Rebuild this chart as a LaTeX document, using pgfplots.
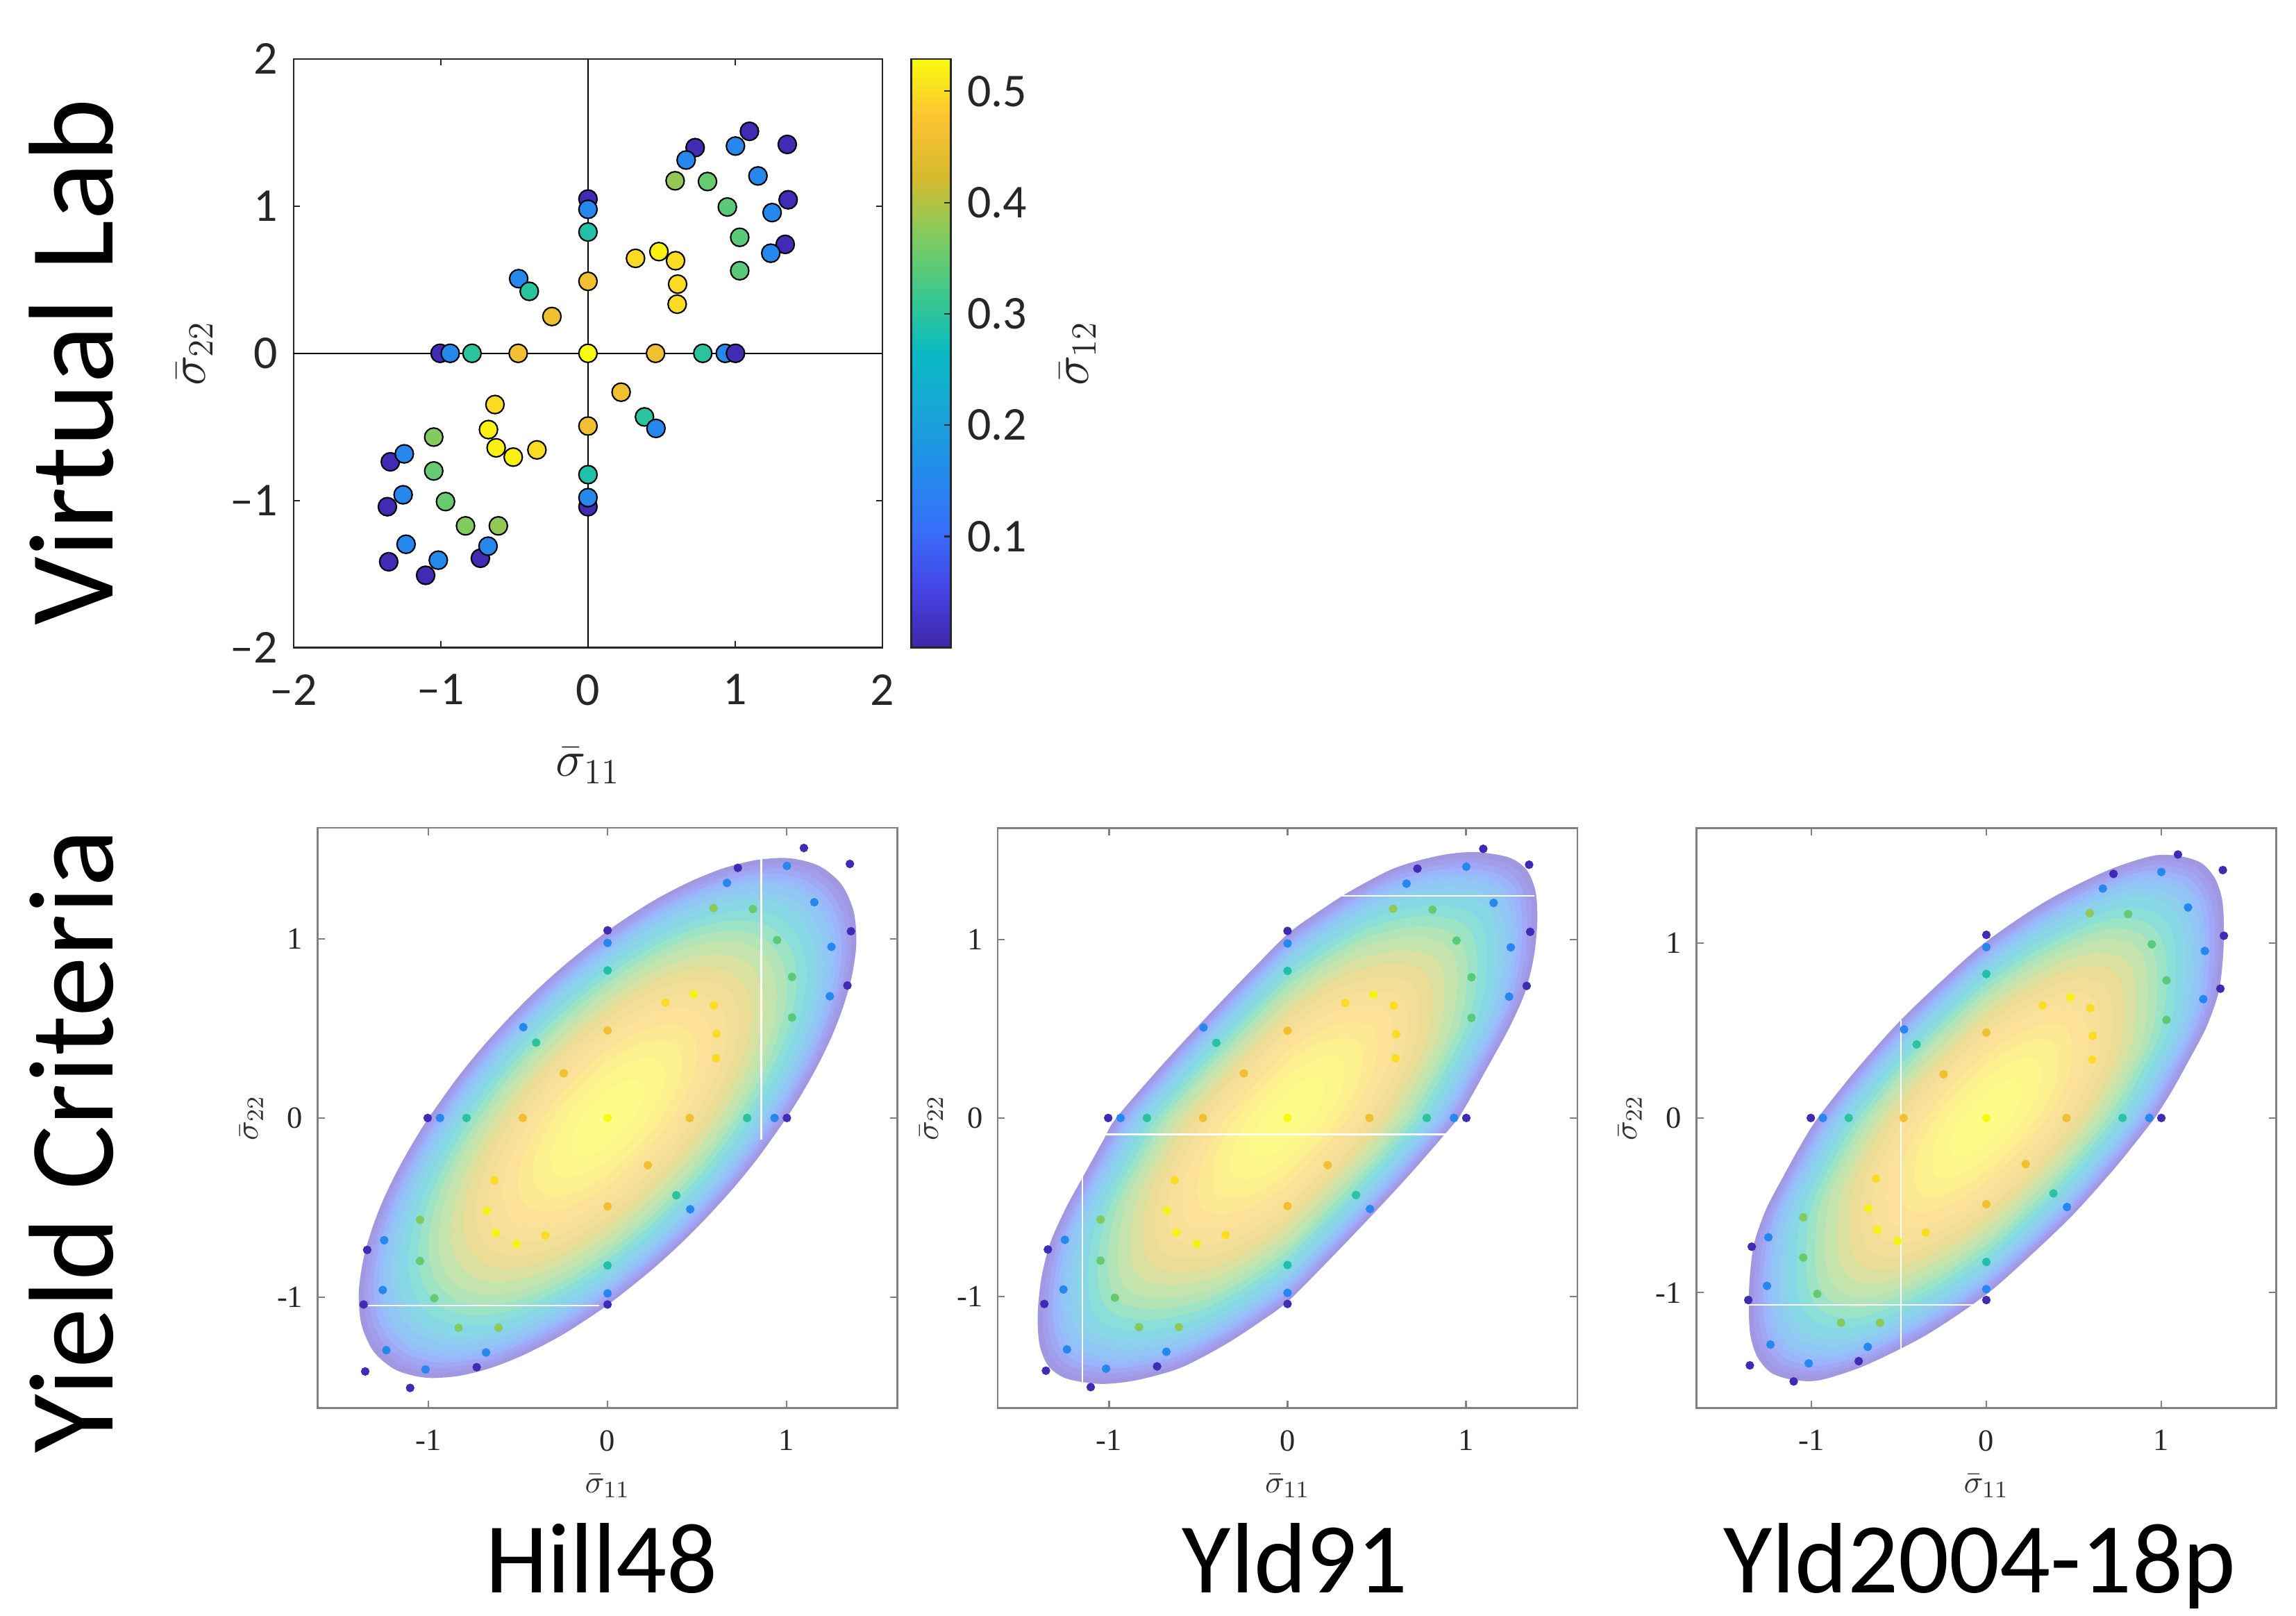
\documentclass[border=0pt]{standalone}
\usepackage{fontspec}
\setmainfont{Carlito}
\newfontfamily\timesfont{Liberation Serif}
\usepackage{pgfplots}
\usepackage{pgfplotstable}
\pgfplotsset{compat=1.18}

% parula-like colormap
\pgfplotsset{colormap={parula}{rgb255=(62,38,168) rgb255=(70,68,230) rgb255=(55,110,250)
  rgb255=(35,140,235) rgb255=(25,165,215) rgb255=(10,185,195) rgb255=(60,200,140)
  rgb255=(130,203,95) rgb255=(215,186,45) rgb255=(252,195,50) rgb255=(249,251,14)}}

% virtual lab points: sigma11 sigma22 sigma12
\pgfplotstableread{
x y c
1.097 1.508 0.01
0.728 1.397 0.01
1.002 1.408 0.15
1.354 1.419 0.01
0.667 1.313 0.15
0.592 1.172 0.38
0.812 1.167 0.35
1.155 1.205 0.15
0.947 0.994 0.34
1.360 1.043 0.01
1.251 0.956 0.15
1.031 0.788 0.34
1.340 0.740 0.01
1.242 0.680 0.15
1.031 0.561 0.34
0.323 0.645 0.50
0.482 0.691 0.52
0.595 0.629 0.50
0.609 0.470 0.50
0.606 0.334 0.50
0 1.048 0.01
0 0.978 0.15
0 0.824 0.29
0 0.489 0.46
0 0 0.53
0 -0.494 0.46
0 -0.824 0.29
0 -1.042 0.01
0 -0.980 0.15
-1.005 0 0.01
-0.936 0 0.15
-0.788 0 0.30
-0.474 0 0.46
0.459 0 0.46
0.780 0 0.30
0.933 0 0.15
1.002 0 0.01
-0.471 0.507 0.15
-0.399 0.421 0.30
-0.245 0.250 0.46
0.225 -0.264 0.46
0.384 -0.432 0.30
0.462 -0.510 0.15
-0.632 -0.348 0.50
-0.676 -0.518 0.52
-0.624 -0.642 0.52
-0.508 -0.705 0.52
-0.347 -0.656 0.50
-1.343 -0.737 0.01
-1.363 -1.042 0.01
-1.354 -1.416 0.01
-0.731 -1.392 0.01
-1.103 -1.508 0.01
-1.048 -0.569 0.37
-1.248 -0.683 0.15
-1.048 -0.799 0.35
-1.256 -0.961 0.15
-0.968 -1.007 0.35
-0.832 -1.172 0.37
-0.609 -1.172 0.38
-1.236 -1.297 0.15
-0.679 -1.310 0.15
-1.017 -1.405 0.15
}\vlab

% yield surface outlines (sigma12 = 0)
\pgfplotstableread{
x y
1.000 0.000
1.060 0.093
1.122 0.198
1.187 0.318
1.253 0.456
1.314 0.613
1.364 0.788
1.390 0.973
1.375 1.154
1.306 1.306
1.182 1.408
1.016 1.451
0.832 1.441
0.651 1.396
0.485 1.331
0.337 1.258
0.209 1.185
0.000 1.045
-0.231 0.862
-0.407 0.704
-0.555 0.555
-0.695 0.401
-0.839 0.225
-1.000 0.000
-1.060 -0.093
-1.122 -0.198
-1.187 -0.318
-1.253 -0.456
-1.314 -0.613
-1.364 -0.788
-1.390 -0.973
-1.375 -1.154
-1.306 -1.306
-1.182 -1.408
-1.016 -1.451
-0.832 -1.441
-0.651 -1.396
-0.485 -1.331
-0.337 -1.258
-0.209 -1.185
0.000 -1.045
0.231 -0.862
0.407 -0.704
0.555 -0.555
0.695 -0.401
0.839 -0.225
1.000 0.000
}\hillB

\pgfplotstableread{
x y
0.96 0.00
1.03 0.12
1.13 0.30
1.24 0.50
1.33 0.70
1.38 0.90
1.40 1.10
1.39 1.27
1.34 1.39
1.24 1.46
1.05 1.49
0.85 1.47
0.60 1.40
0.35 1.27
0.15 1.14
0.00 1.03
-0.20 0.83
-0.45 0.57
-0.70 0.30
-0.96 0.00
-1.03 -0.12
-1.13 -0.30
-1.24 -0.50
-1.33 -0.70
-1.38 -0.90
-1.40 -1.10
-1.39 -1.27
-1.34 -1.39
-1.24 -1.46
-1.05 -1.49
-0.85 -1.47
-0.60 -1.40
-0.35 -1.27
-0.15 -1.14
0.00 -1.03
0.20 -0.83
0.45 -0.57
0.70 -0.30
0.96 0.00
}\yldA

\pgfplotstableread{
x y
0.965 0.00
1.06 0.15
1.16 0.33
1.26 0.52
1.33 0.72
1.355 0.92
1.36 1.10
1.35 1.25
1.31 1.37
1.23 1.46
1.10 1.50
0.95 1.50
0.69 1.415
0.34 1.24
0.00 1.01
-0.25 0.79
-0.50 0.55
-0.75 0.27
-0.965 0.00
-1.06 -0.15
-1.16 -0.33
-1.26 -0.52
-1.33 -0.72
-1.355 -0.92
-1.36 -1.10
-1.35 -1.25
-1.31 -1.37
-1.23 -1.46
-1.10 -1.50
-0.95 -1.50
-0.69 -1.415
-0.34 -1.24
0.00 -1.01
0.25 -0.79
0.50 -0.55
0.75 -0.27
0.965 0.00
}\yldB

% one shaded ring: table, scale, colormap value (0..1000)
\newcommand\layer[3]{%
  \addplot[draw=none, smooth, color of colormap={#3 of parula}, fill=.!50!white]
    table[x expr=#2*\thisrow{x}, y expr=#2*\thisrow{y}] {#1};}
\newcommand\shape[1]{%
  \layer{#1}{1.000}{40}\layer{#1}{0.980}{80}\layer{#1}{0.960}{130}
  \layer{#1}{0.940}{190}\layer{#1}{0.920}{250}\layer{#1}{0.900}{310}
  \layer{#1}{0.870}{380}\layer{#1}{0.840}{450}\layer{#1}{0.800}{530}
  \layer{#1}{0.760}{600}\layer{#1}{0.720}{660}\layer{#1}{0.680}{710}
  \layer{#1}{0.630}{760}\layer{#1}{0.580}{800}\layer{#1}{0.530}{840}
  \layer{#1}{0.480}{870}\layer{#1}{0.420}{900}\layer{#1}{0.360}{930}
  \layer{#1}{0.300}{955}\layer{#1}{0.230}{975}\layer{#1}{0.150}{990}
  \layer{#1}{0.070}{998}}

\pgfplotsset{
  bottomaxis/.style={
    anchor=north west, scale only axis, width=197pt, height=197pt,
    xtick={-1,0,1}, ytick={-1,0,1},
    xticklabels={-1,0,1}, yticklabels={-1,0,1},
    tick align=inside, major tick length=2.5pt,
    axis line style={black!50, line width=0.6pt},
    every tick/.style={black!50, line width=0.5pt},
    ticklabel style={font=\timesfont\fontsize{10.5}{12}\selectfont, text=black!85},
    xticklabel style={yshift=-4pt},
    yticklabel style={xshift=-1.5pt},
    xlabel={$\bar\sigma_{11}$}, ylabel={$\bar\sigma_{22}$},
    label style={font=\fontsize{11}{13}\selectfont, text=black!80},
    xlabel style={at={(axis description cs:0.5,-0.1345)}, anchor=center},
    ylabel style={at={(axis description cs:-0.1142,0.5)}, anchor=center},
    colormap name=parula, point meta min=0, point meta max=0.529,
  },
  dots/.style={scatter, only marks, mark=*, mark size=1.25pt, scatter src=explicit,
    scatter/use mapped color={draw=mapped color, fill=mapped color}},
  seam/.style={white, line width=0.5pt},
}

\begin{document}
\begin{tikzpicture}
\path[use as bounding box] (0,0) rectangle (780pt,-548.85pt);

\begin{axis}[
  at={(99.75pt,-20pt)}, anchor=north west,
  scale only axis, width=200pt, height=200pt,
  xmin=-2, xmax=2, ymin=-2, ymax=2,
  xtick={-2,-1,0,1,2}, ytick={-2,-1,0,1,2},
  xticklabels={\textendash2,\textendash1,0,1,2},
  yticklabels={\textendash2,\textendash1,0,1,2},
  tick align=inside, major tick length=2.2pt,
  axis line style={black!85, line width=0.6pt},
  every tick/.style={black!85, line width=0.5pt},
  ticklabel style={font=\fontsize{16}{19}\selectfont, text=black!85},
  xticklabel style={yshift=-5.5pt},
  yticklabel style={xshift=-2pt},
  xlabel={$\bar\sigma_{11}$}, ylabel={$\bar\sigma_{22}$},
  label style={font=\fontsize{18}{21}\selectfont, text=black!85},
  xlabel style={at={(axis description cs:0.5,-0.2)}, anchor=center},
  ylabel style={at={(axis description cs:-0.1675,0.5)}, anchor=center},
  colormap name=parula, point meta min=0, point meta max=0.529,
  colorbar,
  colorbar style={
    at={(parent axis.north east)}, anchor=north west, xshift=1.25pt,
    scale only axis, width=13.5pt, height=200pt,
    ytick={0.1,0.2,0.3,0.4,0.5}, yticklabels={0.1,0.2,0.3,0.4,0.5},
    ytick pos=right, tick align=inside, major tick length=2.2pt,
    axis line style={black!85, line width=0.6pt},
    every tick/.style={black!85, line width=0.5pt},
    yticklabel style={font=\fontsize{16}{19}\selectfont, text=black!85, xshift=2pt},
    ylabel={$\bar\sigma_{12}$},
    ylabel style={at={(axis description cs:4.19,0.5)}, anchor=center,
      font=\fontsize{18}{21}\selectfont, text=black!85},
  },
]
\addplot[black, line width=0.5pt] coordinates {(-2,0) (2,0)};
\addplot[black, line width=0.5pt] coordinates {(0,-2) (0,2)};
\addplot[scatter, only marks, mark=*, mark size=3.1pt, scatter src=explicit,
  scatter/use mapped color={draw=black, fill=mapped color},
  mark options={line width=0.5pt}]
  table[x=x, y=y, meta=c] {\vlab};
\end{axis}

\begin{axis}[bottomaxis, at={(107.9pt,-281.2pt)},
  xmin=-1.62, xmax=1.62, ymin=-1.62, ymax=1.62]
\shape{\hillB}
\addplot[seam] coordinates {(0.859,1.468) (0.859,-0.12)};
\addplot[seam] coordinates {(-1.34,-1.047) (-0.046,-1.047)};
\addplot[dots] table[x=x, y=y, meta=c] {\vlab};
\end{axis}

\begin{axis}[bottomaxis, at={(338.9pt,-281.2pt)},
  xmin=-1.625, xmax=1.625, ymin=-1.625, ymax=1.625]
\shape{\yldA}
\addplot[seam] coordinates {(0.304,1.246) (1.384,1.246)};
\addplot[seam] coordinates {(-1.023,-0.092) (0.888,-0.092)};
\addplot[seam] coordinates {(-1.151,-0.304) (-1.151,-1.478)};
\addplot[dots] table[x=x, y=y, meta=c] {\vlab};
\end{axis}

\begin{axis}[bottomaxis, at={(576.3pt,-281.2pt)},
  xmin=-1.66, xmax=1.66, ymin=-1.66, ymax=1.66]
\shape{\yldB}
\addplot[seam] coordinates {(-0.489,0.558) (-0.489,-1.321)};
\addplot[seam] coordinates {(-1.361,-1.071) (-0.076,-1.071)};
\addplot[dots] table[x=x, y=y, meta=c] {\vlab};
\end{axis}

\node[rotate=90, anchor=base, font=\fontsize{41}{48}\selectfont] at (38.3pt,-123pt) {Virtual Lab};
\node[rotate=90, anchor=base, font=\fontsize{41}{48}\selectfont] at (38.3pt,-387.5pt) {Yield Criteria};
\node[anchor=base, font=\fontsize{34}{40}\selectfont] at (204.4pt,-541pt) {Hill48};
\node[anchor=base, font=\fontsize{34}{40}\selectfont] at (440pt,-541pt) {Yld91};
\node[anchor=base, font=\fontsize{34}{40}\selectfont] at (672.5pt,-541pt) {Yld2004-18p};
\end{tikzpicture}
\end{document}
